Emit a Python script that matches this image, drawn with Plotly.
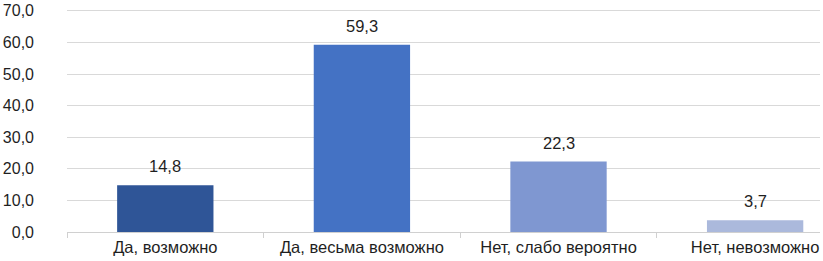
import plotly.graph_objects as go

categories = ["Да, возможно", "Да, весьма возможно", "Нет, слабо вероятно", "Нет, невозможно"]
values = [14.8, 59.3, 22.3, 3.7]
colors = ["#2F5597", "#4472C4", "#7F97D1", "#ABB9DC"]
y_ticks = [0, 10, 20, 30, 40, 50, 60, 70]

fig = go.Figure(go.Bar(
    x=categories, y=values,
    marker=dict(color=colors, line=dict(width=0)),
    hoverinfo="skip",
))

for c, v in zip(categories, values):
    fig.add_annotation(
        x=c, y=v, text=f"{v:.1f}".replace(".", ","),
        showarrow=False, yanchor="bottom", yshift=8,
        font=dict(family="Liberation Sans, Arial", size=16.5, color="#1F1F1F"),
    )

fig.update_layout(
    width=823, height=261,
    margin=dict(l=66, r=3, t=3, b=29),
    paper_bgcolor="white", plot_bgcolor="white",
    separators=", ",
    bargap=0.51,
    showlegend=False,
    font=dict(family="Liberation Sans, Arial", size=16, color="#1F1F1F"),
    xaxis=dict(
        range=[-0.5, 3.33],
        showline=True, linecolor="#D0D0D0", linewidth=1,
        ticks="outside", tickson="boundaries", ticklen=5, tickcolor="#D0D0D0",
        showgrid=False,
        tickfont=dict(size=16.5, color="#1F1F1F"),
    ),
    yaxis=dict(
        range=[0, 70.9], tickvals=y_ticks, tickformat=".1f",
        showgrid=True, gridcolor="#D9D9D9", gridwidth=1,
        zeroline=False, showline=False,
        ticklabelstandoff=32, ticklabeloverflow="allow",
        tickfont=dict(size=16, color="#1F1F1F"),
    ),
)

fig.write_html("out.html", config={"displayModeBar": False},
               post_script="document.body.style.margin='0';")
